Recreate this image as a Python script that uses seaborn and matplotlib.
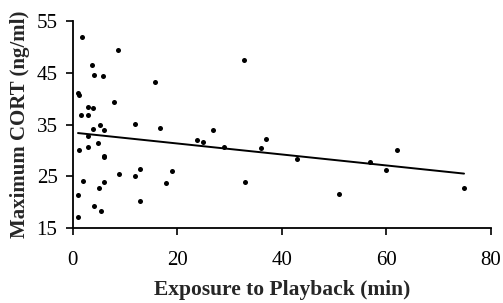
# Maximum CORT vs exposure to playback - scatter with linear fit
import pandas as pd
import numpy as np
import matplotlib
matplotlib.use("Agg")
import matplotlib.pyplot as plt
import seaborn as sns

# --------------------------------------------
# DATA
# --------------------------------------------
exposure_min = [
    1.8, 8.7, 3.7, 4.1, 5.7, 1.0, 1.2, 7.8, 2.9, 3.9,
    1.5, 2.9, 5.3, 3.9, 5.9, 3.0, 1.25, 2.9, 4.9, 5.9,
    6.0, 8.8, 1.95, 5.9, 4.95, 1.07, 4.0, 5.45, 1.05, 11.9,
    16.7, 15.7, 23.8, 24.9, 26.8, 28.9, 12.9, 11.9, 18.9, 17.9,
    12.9, 36.9, 36.0, 43.0, 33.0, 51.0, 32.8, 56.9, 59.9, 62.0,
    74.9,
]
max_cort = [
    51.8, 49.3, 46.5, 44.5, 44.3, 41.1, 40.6, 39.3, 38.3, 38.2,
    36.8, 36.8, 35.0, 34.1, 34.0, 32.7, 30.0, 30.7, 31.4, 29.0,
    28.8, 25.5, 24.2, 23.9, 22.8, 21.4, 19.3, 18.4, 17.2, 35.1,
    34.4, 43.2, 32.0, 31.6, 33.9, 30.7, 26.5, 25.1, 26.1, 23.7,
    20.2, 32.2, 30.4, 28.3, 23.9, 21.7, 47.4, 27.7, 26.2, 30.0,
    22.7,
]

x_ticks = [0, 20, 40, 60, 80]
y_ticks = [15, 25, 35, 45, 55]

df = pd.DataFrame({"Exposure": exposure_min, "CORT": max_cort})

# --------------------------------------------
# PLOT
# --------------------------------------------
sns.set_style("ticks")
plt.rcParams["font.family"] = ["Liberation Serif", "DejaVu Serif"]

fig = plt.figure(figsize=(5.03, 3.03), dpi=100)
ax = fig.add_axes([0.1447, 0.2465, 0.8308, 0.6852])

sns.regplot(
    data=df, x="Exposure", y="CORT", ax=ax, ci=None, truncate=True,
    scatter_kws={"s": 13, "color": "black", "linewidths": 0, "alpha": 1},
    line_kws={"color": "black", "linewidth": 1.4},
)

ax.set_xlim(0, 80)
ax.set_ylim(15, 55)
ax.set_xticks(x_ticks)
ax.set_yticks(y_ticks)
ax.tick_params(labelsize=15, length=5, width=1.2, color="black", labelcolor="black")
ax.tick_params(axis="x", pad=11)
ax.tick_params(axis="y", pad=6)

for side in ["top", "right"]:
    ax.spines[side].set_visible(False)
for side in ["left", "bottom"]:
    ax.spines[side].set_color("black")
    ax.spines[side].set_linewidth(1.3)

ax.set_xlabel("Exposure to Playback (min)", fontsize=15.5, fontweight="bold", labelpad=7.5)
ax.set_ylabel("Maximum CORT (ng/ml)", fontsize=15, fontweight="bold", labelpad=5)

fig.savefig("out.png", dpi=100)
